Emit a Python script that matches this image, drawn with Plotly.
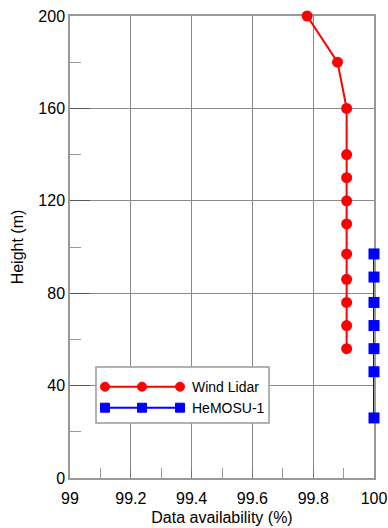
import plotly.graph_objects as go

# Data
lidar_height = [200, 180, 160, 140, 130, 120, 110, 97, 86, 76, 66, 56]
lidar_avail = [99.78, 99.88, 99.91, 99.91, 99.91, 99.91, 99.91, 99.91, 99.91, 99.91, 99.91, 99.91]
hemosu_height = [97, 87, 76, 66, 56, 46, 26]
hemosu_avail = [100, 100, 100, 100, 100, 100, 100]
series_names = ["Wind Lidar", "HeMOSU-1"]
x_ticks = [99, 99.2, 99.4, 99.6, 99.8, 100]
x_tick_labels = ["99", "99.2", "99.4", "99.6", "99.8", "100"]
y_ticks = [0, 40, 80, 120, 160, 200]

FONT = "Arial, Liberation Sans, sans-serif"
W, H = 388, 528
ML, MR, MT, MB = 70, 14, 16, 50
PW, PH = W - ML - MR, H - MT - MB

fig = go.Figure()
fig.add_trace(go.Scatter(x=lidar_avail, y=lidar_height, mode="lines+markers",
                         name=series_names[0], cliponaxis=False,
                         line=dict(color="#ff0000", width=2),
                         marker=dict(symbol="circle", size=11, color="#ff0000")))
fig.add_trace(go.Scatter(x=hemosu_avail, y=hemosu_height, mode="lines+markers",
                         name=series_names[1], cliponaxis=False,
                         line=dict(color="#0000ff", width=2),
                         marker=dict(symbol="square", size=11, color="#0000ff")))

def px(xp):
    return (xp - ML) / PW

def py(yp):
    return (MT + PH - yp) / PH

shapes = []
# legend box
shapes.append(dict(type="rect", xref="paper", yref="paper", x0=px(96), x1=px(269),
                   y0=py(423), y1=py(367), line=dict(color="#999999", width=1.5),
                   fillcolor="white", layer="above"))
legend_rows = [(386.7, "#ff0000", "circle"), (407.7, "#0000ff", "rect")]
for (ypix, col, kind), name in zip(legend_rows, series_names):
    shapes.append(dict(type="line", xref="paper", yref="paper", x0=px(105), x1=px(180),
                       y0=py(ypix), y1=py(ypix), line=dict(color=col, width=2), layer="above"))
    for xm in (105, 142, 180):
        shapes.append(dict(type=kind, xref="paper", yref="paper", xsizemode="pixel",
                           ysizemode="pixel", xanchor=px(xm), yanchor=py(ypix),
                           x0=-4.5, x1=4.5, y0=-4.5, y1=4.5, fillcolor=col,
                           line=dict(color=col, width=1), layer="above"))
    fig.add_annotation(xref="paper", yref="paper", x=px(190), y=py(ypix), text=name,
                       showarrow=False, xanchor="left", yanchor="middle",
                       font=dict(family=FONT, size=14, color="black"))

fig.update_layout(
    width=W, height=H,
    margin=dict(l=ML, r=MR, t=MT, b=MB, pad=0, autoexpand=False),
    paper_bgcolor="white", plot_bgcolor="white",
    showlegend=False, shapes=shapes,
    font=dict(family=FONT, size=16, color="black"),
)
fig.update_xaxes(range=[99, 100], tickvals=x_ticks, ticktext=x_tick_labels,
                 showgrid=True, gridcolor="#8a8a8a", gridwidth=1,
                 showline=True, mirror=True, linecolor="#999999", linewidth=1.5,
                 ticks="inside", ticklen=10, tickcolor="#777777", tickwidth=1,
                 minor=dict(dtick=0.1, ticks="inside", ticklen=10, tickcolor="#999999", showgrid=False),
                 zeroline=False, automargin=False, layer="below traces",
                 ticklabelstandoff=5,
                 title=dict(text="Data availability (%)", standoff=6, font=dict(size=16)),
                 tickfont=dict(size=16))
fig.update_yaxes(range=[0, 200], tickvals=y_ticks,
                 showgrid=True, gridcolor="#8a8a8a", gridwidth=1,
                 showline=True, mirror=True, linecolor="#999999", linewidth=1.5,
                 ticks="inside", ticklen=20, tickcolor="#555555", tickwidth=1,
                 minor=dict(dtick=20, ticks="inside", ticklen=11, tickcolor="#999999", showgrid=False),
                 zeroline=False, automargin=False, layer="below traces",
                 title=dict(text="Height (m)", standoff=11, font=dict(size=16)),
                 tickfont=dict(size=16))

fig.write_html("out.html", config={"displayModeBar": False},
               post_script="document.body.style.margin='0';document.body.style.overflow='hidden';")
